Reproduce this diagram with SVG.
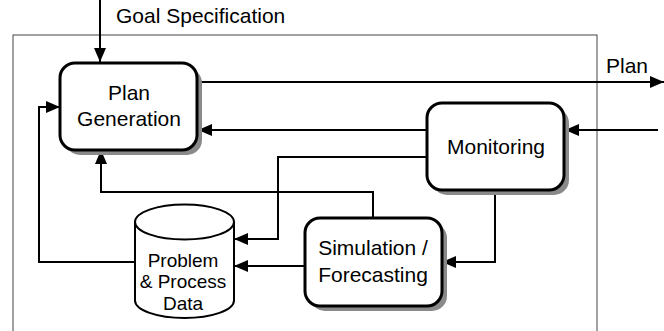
<svg xmlns="http://www.w3.org/2000/svg" width="664" height="331" viewBox="0 0 664 331">
<style>
text{font-family:"Liberation Sans",Arial,sans-serif;fill:#000}
.lbl{font-size:21px;text-anchor:middle}
.ext{font-size:21px}
.db{font-size:19px;text-anchor:middle}
.box{fill:#fff;stroke:#000;stroke-width:3}
.shadow{fill:#8a8a8a}
.conn{fill:none;stroke:#000;stroke-width:2}
.frame{fill:none;stroke:#444;stroke-width:1}
</style>
<defs>
<marker id="arr" markerUnits="userSpaceOnUse" markerWidth="14" markerHeight="12" viewBox="0 0 14 12" refX="14" refY="6" orient="auto">
<path d="M0,0 L14,6 L0,12 Z" fill="#000"/>
</marker>
</defs>
<rect class="frame" x="13" y="35" width="584" height="310"/>
<g id="connectors">
<path class="conn" d="M100,0 V62" marker-end="url(#arr)"/>
<text class="ext" x="116" y="23">Goal Specification</text>
<path class="conn" d="M197,82 H664" marker-end="url(#arr)"/>
<text class="ext" x="606" y="73">Plan</text>
<path class="conn" d="M658,130 H565" marker-end="url(#arr)"/>
<path class="conn" d="M427,130 H198" marker-end="url(#arr)"/>
<path class="conn" d="M427,157 H278 V239 H234" marker-end="url(#arr)"/>
<path class="conn" d="M373,218 V192 H101 V150" marker-end="url(#arr)"/>
<path class="conn" d="M495,190 V262 H442" marker-end="url(#arr)"/>
<path class="conn" d="M305,266 H234" marker-end="url(#arr)"/>
<path class="conn" d="M135,262 H39 V107 H60" marker-end="url(#arr)"/>
</g>
<g id="plan-generation">
<rect class="shadow" x="65" y="68" width="137" height="87" rx="15"/>
<rect class="box" x="60" y="63" width="137" height="87" rx="15"/>
<text class="lbl" x="129" y="100">Plan</text>
<text class="lbl" x="129" y="126">Generation</text>
</g>
<g id="monitoring">
<rect class="shadow" x="432" y="108" width="137" height="87" rx="15"/>
<rect class="box" x="427" y="103" width="137" height="87" rx="15"/>
<text class="lbl" x="496" y="154">Monitoring</text>
</g>
<g id="simulation">
<rect class="shadow" x="310" y="223" width="137" height="88" rx="15"/>
<rect class="box" x="305" y="218" width="137" height="88" rx="15"/>
<text class="lbl" x="373" y="255">Simulation /</text>
<text class="lbl" x="373" y="282">Forecasting</text>
</g>
<g id="problem-data">
<path d="M135,222 A49.5,17.5 0 0 1 234,222 V300.5 A49.5,17.5 0 0 1 135,300.5 Z" fill="#fff" stroke="#000" stroke-width="2"/>
<path d="M135,222 A49.5,17.5 0 0 0 234,222" fill="none" stroke="#000" stroke-width="2"/>
<text class="db" x="183" y="267">Problem</text>
<text class="db" x="183" y="288">&amp; Process</text>
<text class="db" x="183" y="310">Data</text>
</g>
</svg>
